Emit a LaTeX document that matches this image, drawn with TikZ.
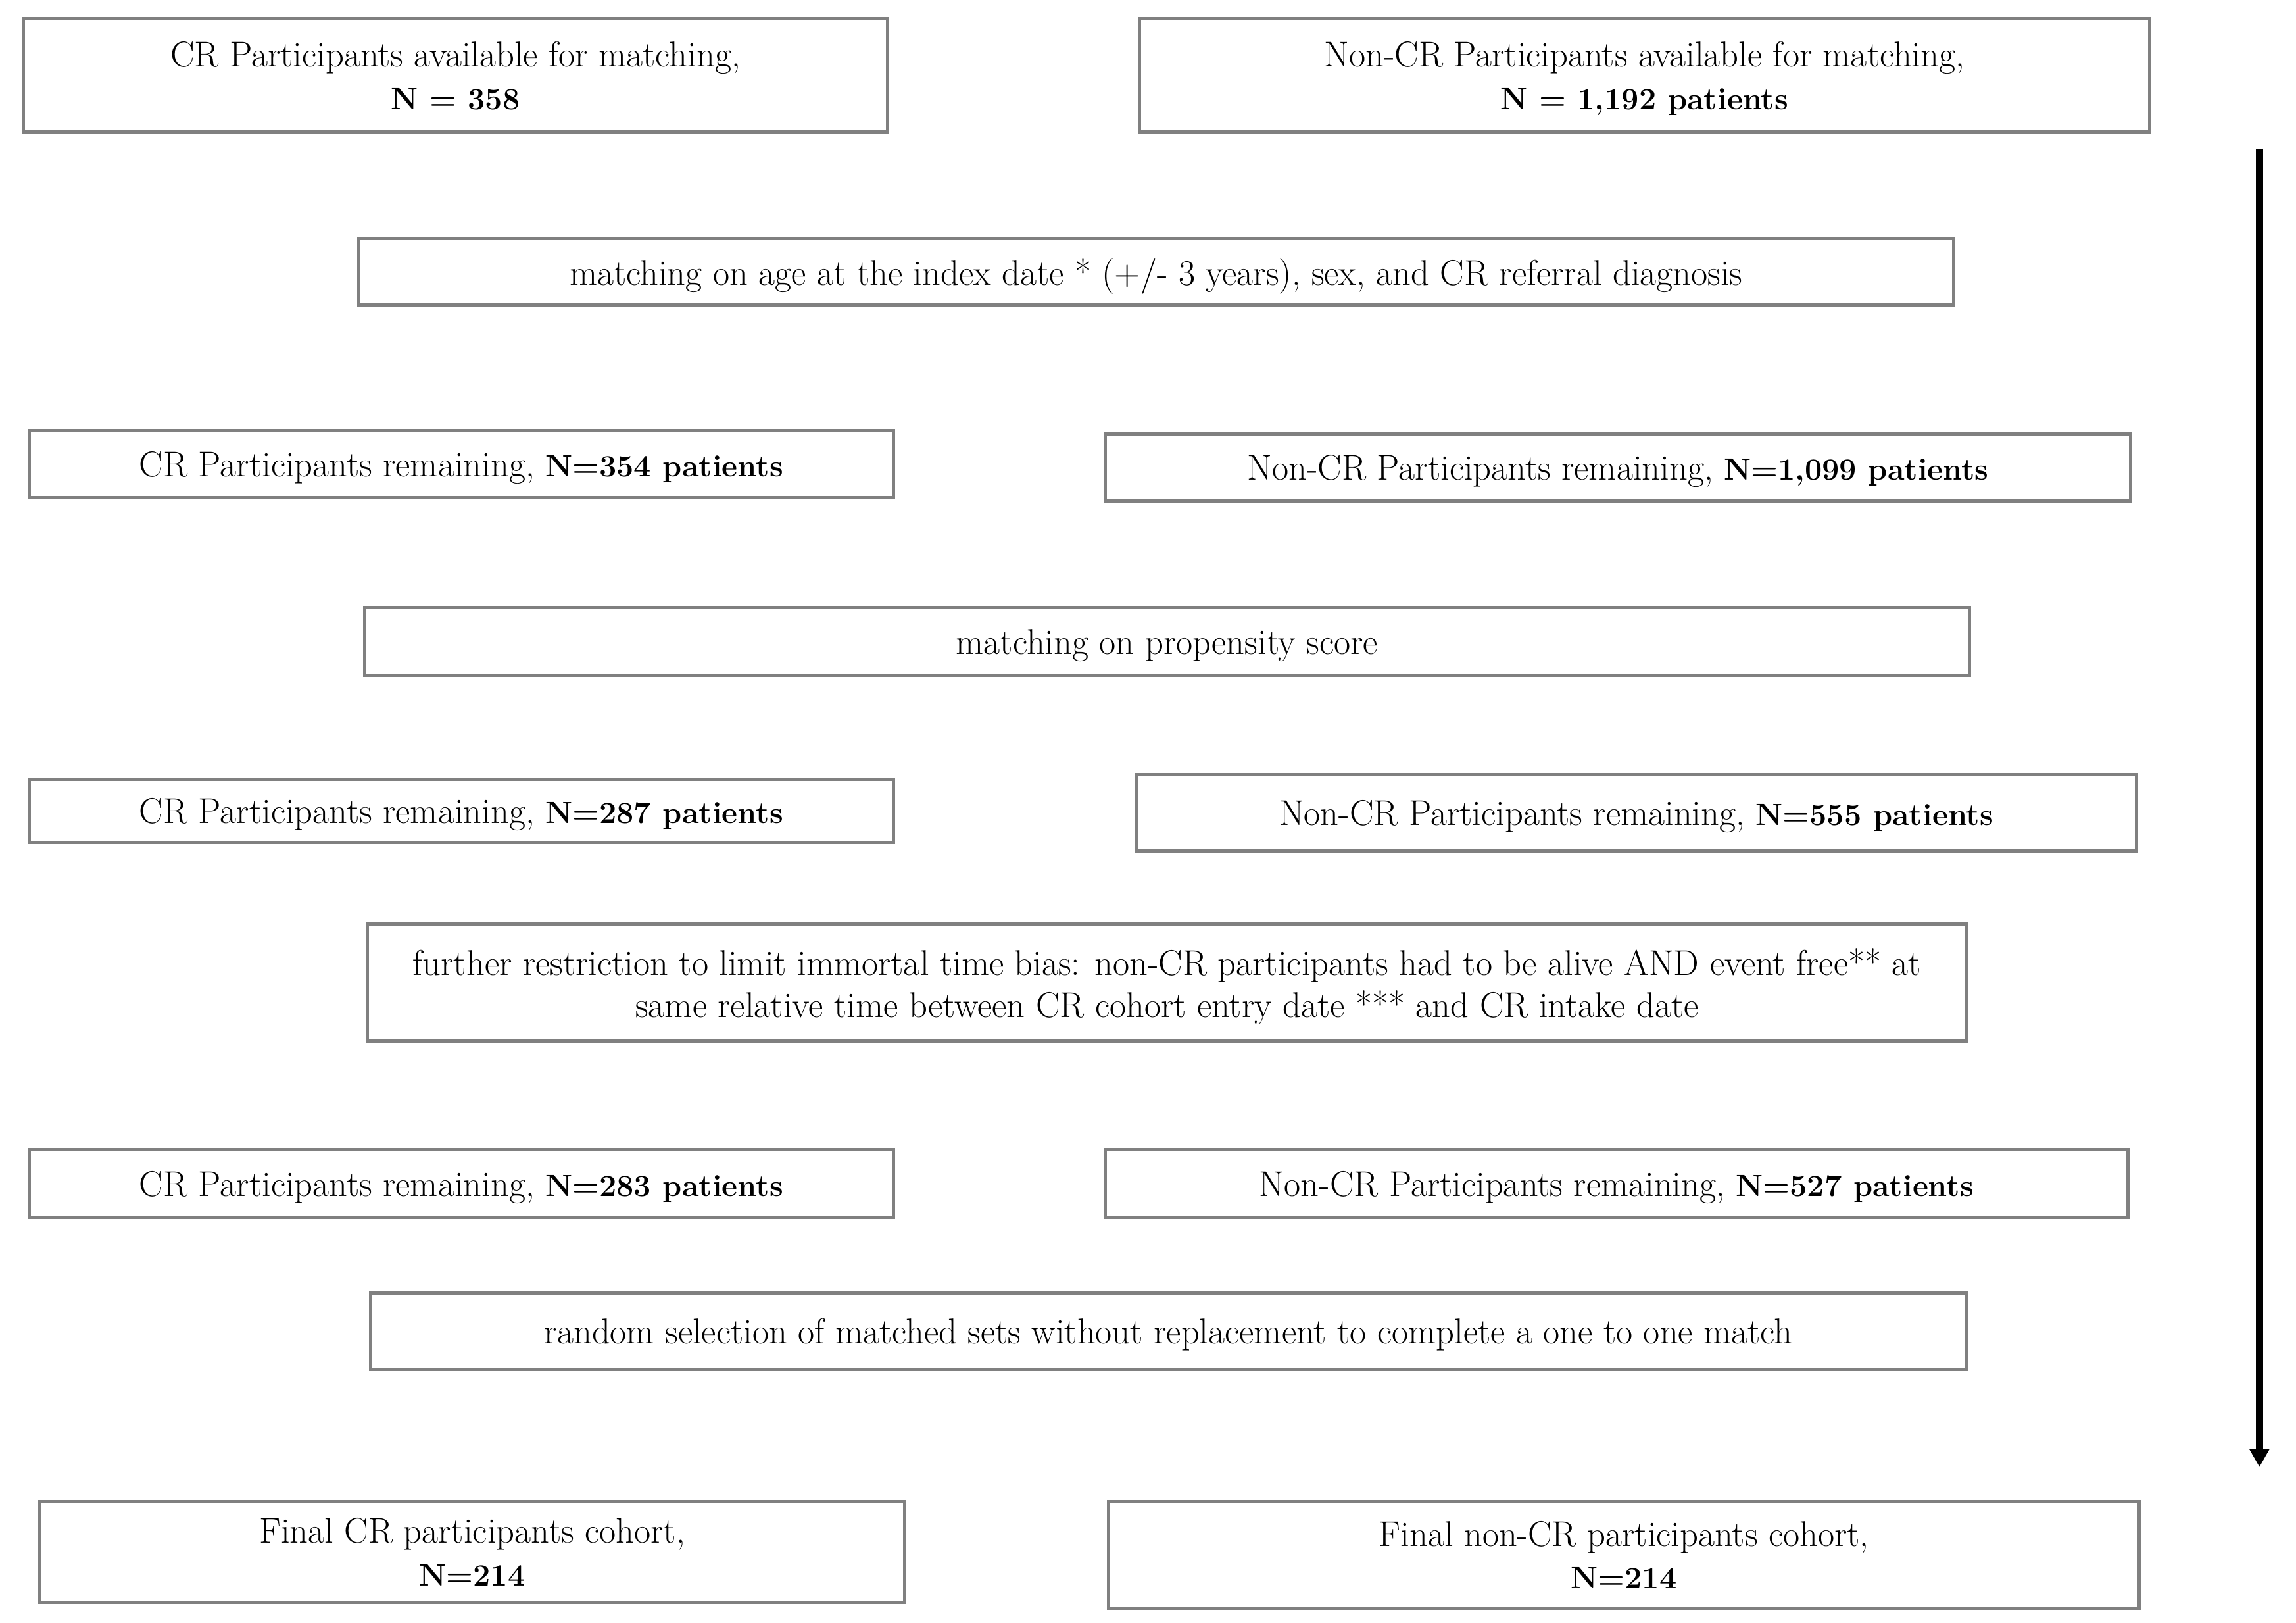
\documentclass[tikz,border=0pt]{standalone}
\usetikzlibrary{arrows.meta}
\newcommand\bnum[1]{{\fontsize{21}{29}\selectfont\bfseries #1}}
\begin{document}
\begin{tikzpicture}[x=1pt,y=-1pt,
  boxnode/.style={draw=black!50, line width=2.25pt, rectangle, inner sep=0pt,
    align=center, font=\fontsize{24.5}{29}\selectfont, text=black, text depth=0pt},
  flowarrow/.style={line width=4.9pt, -{Triangle[width=13pt,length=12.4pt]}}]
\useasboundingbox (0,0) rectangle (1568,1108);
\node[boxnode, minimum width=590pt, minimum height=77pt] (cr0) at (311,51.5)
  {CR Participants available for matching,\\ \bnum{N = 358}};
\node[boxnode, minimum width=690pt, minimum height=77pt] (ncr0) at (1123,51.5)
  {Non-CR Participants available for matching,\\ \bnum{N = 1,192 patients}};
\node[boxnode, minimum width=1089pt, minimum height=45pt] (m1) at (789.5,185.5)
  {matching on age at the index date * (+/- 3 years), sex, and CR referral diagnosis};
\node[boxnode, minimum width=590pt, minimum height=46pt] (cr1) at (315,317)
  {CR Participants remaining, \bnum{N=354 patients}};
\node[boxnode, minimum width=700pt, minimum height=46pt] (ncr1) at (1105,319)
  {Non-CR Participants remaining, \bnum{N=1,099 patients}};
\node[boxnode, minimum width=1096pt, minimum height=46pt] (m2) at (797,438)
  {matching on propensity score};
\node[boxnode, minimum width=590pt, minimum height=43pt] (cr2) at (315,553.5)
  {CR Participants remaining, \bnum{N=287 patients}};
\node[boxnode, minimum width=683pt, minimum height=52pt] (ncr2) at (1117.5,555)
  {Non-CR Participants remaining, \bnum{N=555 patients}};
\node[boxnode, minimum width=1092pt, minimum height=80pt] (m3) at (797,671)
  {further restriction to limit immortal time bias: non-CR participants had to be alive AND event free** at\\
   same relative time between CR cohort entry date *** and CR intake date};
\node[boxnode, minimum width=590pt, minimum height=46pt] (cr3) at (315,808)
  {CR Participants remaining, \bnum{N=283 patients}};
\node[boxnode, minimum width=698pt, minimum height=46pt] (ncr3) at (1104,808)
  {Non-CR Participants remaining, \bnum{N=527 patients}};
\node[boxnode, minimum width=1090pt, minimum height=52pt] (m4) at (798,909)
  {random selection of matched sets without replacement to complete a one to one match};
\node[boxnode, minimum width=591pt, minimum height=69pt] (crf) at (322.5,1059.5)
  {Final CR participants cohort,\\ \bnum{N=214}};
\node[boxnode, minimum width=704pt, minimum height=73pt] (ncrf) at (1109,1061.5)
  {Final non-CR participants cohort,\\ \bnum{N=214}};
\coordinate (atop) at (1543,101.5);
\coordinate (abot) at (1543,1001.6);
\draw[flowarrow] (atop) -- (abot);
\end{tikzpicture}
\end{document}
